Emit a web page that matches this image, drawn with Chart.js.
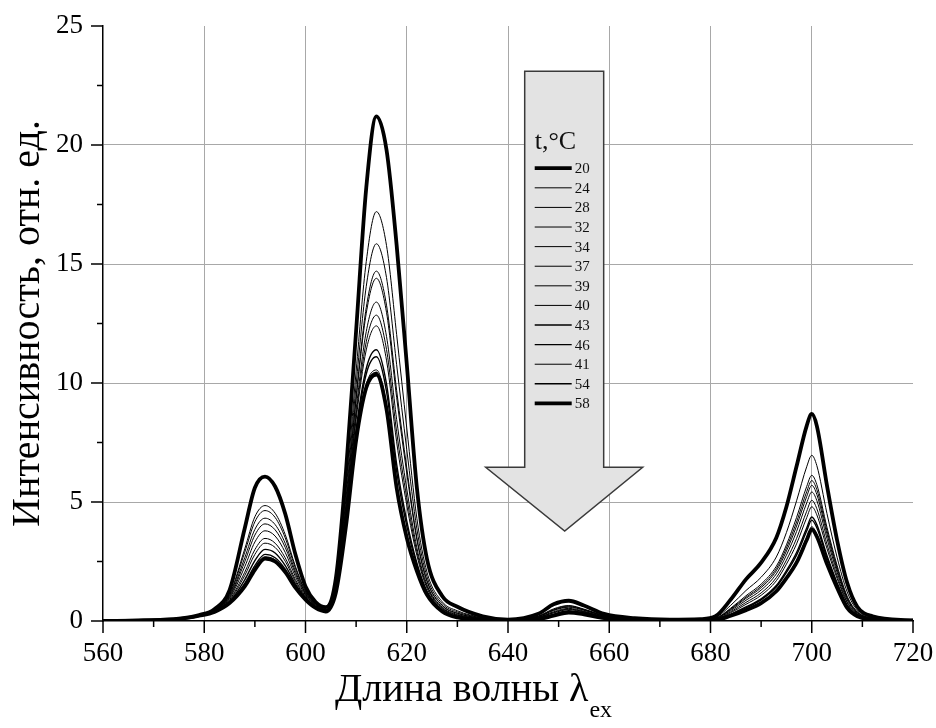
<!DOCTYPE html>
<html>
<head>
<meta charset="utf-8">
<script src="https://cdn.jsdelivr.net/npm/chart.js@4.4.1/dist/chart.umd.min.js"></script>
<style>
  body { margin: 0; background: #fff; }
  #spectra { display: block; }
</style>
</head>
<body>
<canvas id="spectra" width="936" height="728"></canvas>
<script>
// --- data (nm / rel. units) ---

const wavelengths = [560, 568, 575, 579, 582, 585, 588, 590, 592, 594, 596, 598, 600, 602, 604, 606, 608, 610, 612, 614, 616, 618, 620, 622, 624, 627, 630, 635, 640, 646, 649, 652, 655, 659, 665, 672, 678, 681, 684, 687, 690, 693, 695, 697, 699, 700, 701, 703, 705, 707, 709, 712, 720];

const temps = ['20', '24', '28', '32', '34', '37', '39', '40', '43', '46', '41', '54', '58'];

const s20 = [0, 0.03, 0.10, 0.25, 0.50, 1.30, 3.90, 5.60, 6.07, 5.65, 4.50, 2.80, 1.45, 0.80, 0.58, 1.80, 6.30, 12.2, 18.2, 21.2, 19.8, 15.8, 10.8, 5.60, 2.60, 1.05, 0.60, 0.20, 0.06, 0.30, 0.70, 0.85, 0.65, 0.30, 0.12, 0.06, 0.08, 0.20, 0.90, 1.75, 2.45, 3.50, 4.80, 6.50, 8.20, 8.70, 8.20, 5.70, 3.40, 1.60, 0.60, 0.20, 0.02];
const s24 = [0, 0.03, 0.09, 0.24, 0.46, 1.11, 3.03, 4.38, 4.85, 4.53, 3.63, 2.30, 1.26, 0.71, 0.51, 1.58, 5.45, 10.5, 15.1, 17.2, 15.78, 12.04, 8.11, 4.31, 2.05, 0.81, 0.43, 0.14, 0.05, 0.21, 0.51, 0.65, 0.50, 0.23, 0.10, 0.05, 0.07, 0.15, 0.66, 1.28, 1.84, 2.69, 3.72, 5.05, 6.48, 6.96, 6.53, 4.52, 2.68, 1.22, 0.46, 0.15, 0.01];
const s28 = [0, 0.03, 0.09, 0.24, 0.45, 1.07, 2.89, 4.17, 4.64, 4.35, 3.49, 2.22, 1.22, 0.70, 0.49, 1.50, 5.17, 9.93, 14.06, 15.85, 14.43, 10.77, 7.20, 3.87, 1.86, 0.73, 0.38, 0.13, 0.04, 0.20, 0.48, 0.63, 0.48, 0.22, 0.09, 0.05, 0.06, 0.12, 0.54, 1.06, 1.55, 2.30, 3.20, 4.35, 5.65, 6.12, 5.73, 3.94, 2.34, 1.04, 0.39, 0.13, 0.01];
const s32 = [0, 0.02, 0.09, 0.23, 0.44, 1.02, 2.66, 3.85, 4.32, 4.05, 3.26, 2.09, 1.17, 0.67, 0.47, 1.44, 4.92, 9.44, 13.17, 14.70, 13.27, 9.69, 6.43, 3.50, 1.70, 0.66, 0.33, 0.11, 0.04, 0.19, 0.46, 0.60, 0.47, 0.21, 0.09, 0.05, 0.06, 0.11, 0.51, 1.00, 1.47, 2.20, 3.07, 4.16, 5.43, 5.90, 5.52, 3.80, 2.25, 0.99, 0.37, 0.12, 0.01];
const s34 = [0, 0.02, 0.09, 0.23, 0.43, 0.98, 2.49, 3.61, 4.08, 3.83, 3.09, 1.99, 1.13, 0.66, 0.47, 1.42, 4.86, 9.32, 12.93, 14.40, 12.97, 9.40, 6.22, 3.41, 1.66, 0.64, 0.32, 0.11, 0.03, 0.18, 0.44, 0.58, 0.45, 0.20, 0.09, 0.05, 0.06, 0.11, 0.48, 0.95, 1.40, 2.11, 2.94, 3.99, 5.23, 5.70, 5.32, 3.66, 2.16, 0.95, 0.35, 0.11, 0.01];
const s37 = [0, 0.02, 0.09, 0.23, 0.42, 0.94, 2.28, 3.32, 3.79, 3.57, 2.88, 1.87, 1.09, 0.63, 0.45, 1.37, 4.65, 8.89, 12.16, 13.40, 11.96, 8.47, 5.55, 3.08, 1.52, 0.58, 0.28, 0.09, 0.03, 0.16, 0.39, 0.53, 0.41, 0.18, 0.08, 0.05, 0.06, 0.10, 0.44, 0.87, 1.30, 1.98, 2.77, 3.76, 4.96, 5.42, 5.06, 3.47, 2.05, 0.89, 0.33, 0.11, 0.01];
const s39 = [0, 0.02, 0.08, 0.23, 0.41, 0.89, 2.05, 3.00, 3.47, 3.27, 2.65, 1.74, 1.04, 0.61, 0.44, 1.34, 4.53, 8.66, 11.73, 12.85, 11.41, 7.95, 5.18, 2.91, 1.45, 0.55, 0.25, 0.08, 0.03, 0.15, 0.36, 0.50, 0.39, 0.17, 0.08, 0.04, 0.06, 0.09, 0.39, 0.78, 1.18, 1.82, 2.56, 3.47, 4.61, 5.07, 4.72, 3.23, 1.90, 0.81, 0.30, 0.10, 0.01];
const s40 = [0, 0.02, 0.08, 0.23, 0.40, 0.85, 1.91, 2.80, 3.27, 3.09, 2.51, 1.66, 1.00, 0.60, 0.43, 1.31, 4.43, 8.47, 11.39, 12.40, 10.96, 7.53, 4.88, 2.76, 1.38, 0.52, 0.24, 0.08, 0.03, 0.14, 0.34, 0.48, 0.37, 0.17, 0.08, 0.04, 0.06, 0.08, 0.35, 0.70, 1.08, 1.69, 2.39, 3.24, 4.34, 4.80, 4.46, 3.05, 1.79, 0.76, 0.28, 0.09, 0.01];
const s43 = [0, 0.02, 0.08, 0.22, 0.39, 0.81, 1.73, 2.54, 3.01, 2.86, 2.33, 1.56, 0.96, 0.58, 0.42, 1.26, 4.22, 8.05, 10.61, 11.40, 9.96, 6.59, 4.21, 2.44, 1.25, 0.46, 0.19, 0.06, 0.02, 0.11, 0.29, 0.43, 0.34, 0.15, 0.07, 0.04, 0.05, 0.07, 0.29, 0.59, 0.93, 1.49, 2.12, 2.88, 3.91, 4.37, 4.05, 2.75, 1.61, 0.66, 0.24, 0.07, 0.01];
const s46 = [0, 0.02, 0.08, 0.22, 0.39, 0.78, 1.58, 2.33, 2.80, 2.66, 2.18, 1.47, 0.93, 0.56, 0.41, 1.24, 4.16, 7.92, 10.38, 11.10, 9.65, 6.30, 4.00, 2.34, 1.20, 0.44, 0.18, 0.06, 0.02, 0.10, 0.27, 0.40, 0.32, 0.14, 0.07, 0.04, 0.05, 0.06, 0.27, 0.55, 0.89, 1.43, 2.04, 2.77, 3.78, 4.24, 3.92, 2.66, 1.56, 0.63, 0.23, 0.07, 0.01];
const s41 = [0, 0.02, 0.08, 0.22, 0.38, 0.76, 1.51, 2.23, 2.70, 2.57, 2.11, 1.43, 0.91, 0.56, 0.40, 1.21, 4.04, 7.68, 9.95, 10.55, 9.10, 5.78, 3.63, 2.16, 1.13, 0.41, 0.16, 0.05, 0.02, 0.09, 0.24, 0.38, 0.30, 0.13, 0.06, 0.04, 0.05, 0.05, 0.24, 0.48, 0.79, 1.30, 1.87, 2.54, 3.51, 3.96, 3.66, 2.48, 1.45, 0.57, 0.21, 0.06, 0.01];
const s54 = [0, 0.02, 0.08, 0.22, 0.38, 0.76, 1.48, 2.19, 2.66, 2.54, 2.08, 1.42, 0.91, 0.55, 0.40, 1.21, 4.02, 7.64, 9.88, 10.45, 9.00, 5.69, 3.57, 2.13, 1.11, 0.41, 0.15, 0.05, 0.02, 0.08, 0.23, 0.36, 0.29, 0.12, 0.06, 0.04, 0.05, 0.05, 0.23, 0.46, 0.76, 1.27, 1.82, 2.48, 3.44, 3.89, 3.59, 2.43, 1.42, 0.56, 0.20, 0.06, 0.01];
const s58 = [0, 0.02, 0.08, 0.22, 0.38, 0.75, 1.45, 2.15, 2.62, 2.50, 2.05, 1.40, 0.90, 0.55, 0.40, 1.20, 4.00, 7.60, 9.80, 10.35, 8.90, 5.60, 3.50, 2.10, 1.10, 0.40, 0.15, 0.05, 0.02, 0.08, 0.22, 0.35, 0.28, 0.12, 0.06, 0.04, 0.05, 0.05, 0.22, 0.45, 0.75, 1.25, 1.80, 2.45, 3.40, 3.85, 3.55, 2.40, 1.40, 0.55, 0.20, 0.06, 0.01];

const seriesList = [s20, s24, s28, s32, s34, s37, s39, s40, s43, s46, s41, s54, s58];

// --- look ---
const SERIF = "'Liberation Serif', 'Times New Roman', serif";
const lineWidths = [3.8, 1, 1, 1, 1, 1, 1, 1, 1.4, 1.4, 1, 1.4, 3.8];

// grey arrow (in data units) that holds the legend
const arrowBox = { left: 643.3, right: 658.9, top: 23.1, neck: 6.46, headLeft: 635.6, headRight: 666.6, tipX: 651.2, tipY: 3.78 };

const datasets = seriesList.map((vals, i) => ({
    label: temps[i],
    data: wavelengths.map((x, k) => ({ x: x, y: vals[k] })),
    borderColor: '#000',
    borderWidth: lineWidths[i],
    pointRadius: 0,
    cubicInterpolationMode: 'monotone',
    fill: false
}));

// keep the plot box where the figure has it (no label overhang padding)
const noOverhang = s => {
    s.paddingLeft = 0; s.paddingRight = 0; s.paddingTop = 0; s.paddingBottom = 0;
};

// arrow + legend, drawn under the curves
const arrowLegend = {
    id: 'arrowLegend',
    beforeDatasetsDraw(chart) {
        const ctx = chart.ctx;
        const xs = chart.scales.x, ys = chart.scales.y;
        const px = v => xs.getPixelForValue(v);
        const py = v => ys.getPixelForValue(v);
        ctx.save();
        ctx.beginPath();
        ctx.moveTo(px(arrowBox.left), py(arrowBox.top));
        ctx.lineTo(px(arrowBox.right), py(arrowBox.top));
        ctx.lineTo(px(arrowBox.right), py(arrowBox.neck));
        ctx.lineTo(px(arrowBox.headRight), py(arrowBox.neck));
        ctx.lineTo(px(arrowBox.tipX), py(arrowBox.tipY));
        ctx.lineTo(px(arrowBox.headLeft), py(arrowBox.neck));
        ctx.lineTo(px(arrowBox.left), py(arrowBox.neck));
        ctx.closePath();
        ctx.fillStyle = '#e3e3e3';
        ctx.fill();
        ctx.strokeStyle = '#3a3a3a';
        ctx.lineWidth = 1.5;
        ctx.stroke();

        // legend
        const lx = px(arrowBox.left) + 10;
        const top = py(arrowBox.top);
        ctx.fillStyle = '#111';
        ctx.font = '26px ' + SERIF;
        ctx.textBaseline = 'alphabetic';
        ctx.textAlign = 'left';
        ctx.fillText('t,°C', lx, top + 78);
        ctx.font = '15px ' + SERIF;
        ctx.textBaseline = 'middle';
        temps.forEach((t, i) => {
            const y = top + 97 + i * 19.6;
            ctx.beginPath();
            ctx.moveTo(lx, y);
            ctx.lineTo(lx + 37, y);
            ctx.lineWidth = lineWidths[i];
            ctx.strokeStyle = '#000';
            ctx.stroke();
            ctx.fillText(t, lx + 40, y + 1);
        });
        ctx.restore();
    },
    afterDraw(chart) {
        const ctx = chart.ctx;
        const xs = chart.scales.x, ys = chart.scales.y;
        const area = chart.chartArea;
        ctx.save();
        ctx.strokeStyle = '#000';
        ctx.lineWidth = 1.5;
        // tick marks, major and minor, outward
        ys.ticks.forEach(t => {
            const y = ys.getPixelForValue(t.value);
            const len = t.value % 5 === 0 ? 12 : 6;
            ctx.beginPath();
            ctx.moveTo(area.left, y);
            ctx.lineTo(area.left - len, y);
            ctx.stroke();
        });
        xs.ticks.forEach(t => {
            const x = xs.getPixelForValue(t.value);
            const len = t.value % 20 === 0 ? 12 : 6;
            ctx.beginPath();
            ctx.moveTo(x, area.bottom);
            ctx.lineTo(x, area.bottom + len);
            ctx.stroke();
        });

        // axis titles
        ctx.fillStyle = '#000';
        ctx.font = '40px ' + SERIF;
        ctx.textAlign = 'center';
        ctx.textBaseline = 'alphabetic';
        ctx.save();
        ctx.translate(39, (area.top + area.bottom) / 2);
        ctx.rotate(-Math.PI / 2);
        ctx.fillText('Интенсивность, отн. ед.', 0, 0);
        ctx.restore();

        const main = 'Длина волны λ';
        const sub = 'ex';
        ctx.font = '40px ' + SERIF;
        const wMain = ctx.measureText(main).width;
        ctx.font = '24px ' + SERIF;
        const wSub = ctx.measureText(sub).width;
        const cx = 473;
        const x0 = cx - (wMain + wSub) / 2;
        ctx.textAlign = 'left';
        ctx.font = '40px ' + SERIF;
        ctx.fillText(main, x0, 701);
        ctx.font = '24px ' + SERIF;
        ctx.fillText(sub, x0 + wMain + 1, 717);
        ctx.restore();
    }
};

new Chart(document.getElementById('spectra'), {
    type: 'line',
    data: { datasets: datasets },
    options: {
        responsive: false,
        animation: false,
        devicePixelRatio: 1,
        layout: { padding: { top: 26, right: 23, left: 0, bottom: 0 } },
        plugins: {
            legend: { display: false },
            tooltip: { enabled: false }
        },
        scales: {
            x: {
                type: 'linear',
                min: 560,
                max: 720,
                afterFit: s => { s.height = 107; noOverhang(s); },
                ticks: {
                    stepSize: 10,
                    autoSkip: false,
                    maxRotation: 0,
                    padding: 17,
                    color: '#000',
                    font: { family: SERIF, size: 27 },
                    callback: v => (v % 20 === 0 ? String(v) : '')
                },
                grid: {
                    drawTicks: false,
                    lineWidth: 1,
                    color: c => (c.tick && c.tick.value % 20 === 0 && c.tick.value > 560 && c.tick.value < 720) ? '#a8a8a8' : 'rgba(0,0,0,0)'
                },
                border: { display: true, color: '#000', width: 1.5 }
            },
            y: {
                min: 0,
                max: 25,
                afterFit: s => { s.width = 103; noOverhang(s); },
                ticks: {
                    stepSize: 2.5,
                    autoSkip: false,
                    padding: 20,
                    color: '#000',
                    font: { family: SERIF, size: 27 },
                    callback: v => (v % 5 === 0 ? String(v) : '')
                },
                grid: {
                    drawTicks: false,
                    lineWidth: 1,
                    color: c => (c.tick && c.tick.value % 5 === 0 && c.tick.value > 0 && c.tick.value < 25) ? '#a8a8a8' : 'rgba(0,0,0,0)'
                },
                border: { display: true, color: '#000', width: 1.5 }
            }
        }
    },
    plugins: [arrowLegend]
});
</script>
</body>
</html>
